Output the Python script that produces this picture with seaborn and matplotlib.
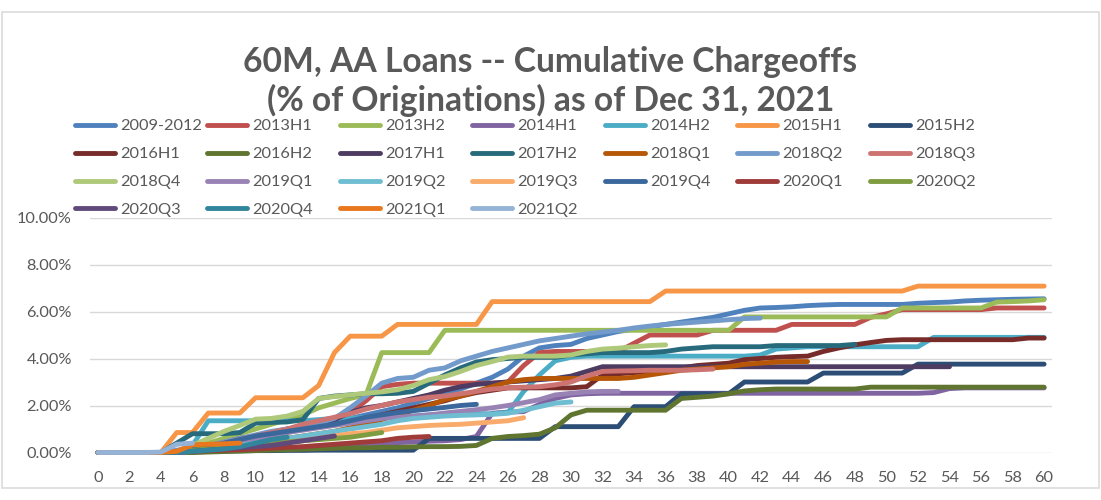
import pandas as pd
import matplotlib.pyplot as plt
import seaborn as sns
from matplotlib.lines import Line2D
from matplotlib.patches import Rectangle

# ── Data: cumulative chargeoffs (% of originations) by months on book ──
s_2009_2012 = [0, 0, 0, 0, 0, 0, 0.1, 0.2, 0.35, 0.5, 0.65, 0.8, 0.9, 1.0, 1.15, 1.3, 1.45, 1.6, 1.75, 1.9,
               2.1, 2.3, 2.5, 2.7, 2.95, 3.2, 3.55, 4.1, 4.45, 4.55, 4.6, 4.85, 5.0, 5.15, 5.25, 5.35, 5.45,
               5.55, 5.65, 5.75, 5.9, 6.05, 6.15, 6.17, 6.2, 6.25, 6.28, 6.3, 6.3, 6.3, 6.3, 6.3, 6.35, 6.38,
               6.4, 6.45, 6.48, 6.5, 6.52, 6.53, 6.54]
s_2013h1 = [0, 0, 0, 0, 0, 0, 0.1, 0.2, 0.3, 0.4, 0.55, 0.7, 0.85, 1.0, 1.2, 1.4, 1.7, 2.2, 2.8, 2.9,
            2.95, 2.95, 2.95, 2.95, 2.95, 2.95, 3.0, 3.7, 4.25, 4.3, 4.3, 4.3, 4.3, 4.3, 4.65, 5.0, 5.0,
            5.0, 5.0, 5.2, 5.2, 5.2, 5.2, 5.2, 5.45, 5.45, 5.45, 5.45, 5.45, 5.75, 5.9, 6.08, 6.08, 6.08,
            6.08, 6.08, 6.08, 6.15, 6.15, 6.15, 6.15]
s_2013h2 = [0, 0, 0, 0, 0, 0, 0.2, 0.4, 0.6, 0.8, 1.0, 1.2, 1.4, 1.6, 1.9, 2.1, 2.3, 2.45, 4.25, 4.25,
            4.25, 4.25, 5.2, 5.2, 5.2, 5.2, 5.2, 5.2, 5.2, 5.2, 5.2, 5.2, 5.2, 5.2, 5.2, 5.2, 5.2, 5.2,
            5.2, 5.2, 5.2, 5.77, 5.77, 5.77, 5.77, 5.77, 5.77, 5.77, 5.77, 5.77, 5.77, 6.15, 6.15, 6.15,
            6.15, 6.15, 6.15, 6.4, 6.42, 6.45, 6.5]
s_2014h1 = [0, 0, 0, 0, 0, 0, 0, 0.05, 0.08, 0.1, 0.12, 0.15, 0.18, 0.2, 0.22, 0.25, 0.28, 0.32, 0.38,
            0.42, 0.45, 0.48, 0.5, 0.55, 0.68, 1.67, 1.72, 1.74, 2.05, 2.3, 2.45, 2.5, 2.52, 2.52, 2.52,
            2.52, 2.52, 2.52, 2.52, 2.52, 2.52, 2.52, 2.52, 2.52, 2.52, 2.52, 2.52, 2.52, 2.52, 2.52,
            2.52, 2.52, 2.52, 2.55, 2.72, 2.75, 2.75, 2.75, 2.75, 2.75, 2.75]
s_2014h2 = [0, 0, 0, 0, 0, 0, 0.3, 1.35, 1.35, 1.35, 1.35, 1.35, 1.35, 1.35, 1.4, 1.45, 1.45, 1.5, 1.5,
            1.55, 1.55, 1.6, 1.6, 1.62, 1.65, 1.65, 1.7, 2.6, 3.3, 3.9, 4.05, 4.1, 4.1, 4.1, 4.1, 4.1,
            4.1, 4.1, 4.1, 4.1, 4.1, 4.1, 4.15, 4.4, 4.45, 4.5, 4.5, 4.5, 4.5, 4.5, 4.5, 4.5, 4.5, 4.9,
            4.9, 4.9, 4.9, 4.9, 4.9, 4.9, 4.9]
s_2015h1 = [0, 0, 0, 0, 0, 0.85, 0.85, 1.68, 1.68, 1.68, 2.33, 2.33, 2.33, 2.33, 2.85, 4.25, 4.95, 4.95,
            4.95, 5.45, 5.45, 5.45, 5.45, 5.45, 5.45, 6.42, 6.42, 6.42, 6.42, 6.42, 6.42, 6.42, 6.42,
            6.42, 6.42, 6.42, 6.87, 6.87, 6.87, 6.87, 6.87, 6.87, 6.87, 6.87, 6.87, 6.87, 6.87, 6.87,
            6.87, 6.87, 6.87, 6.87, 7.08, 7.08, 7.08, 7.08, 7.08, 7.08, 7.08, 7.08, 7.08]
s_2015h2 = [0, 0, 0, 0, 0, 0.02, 0.04, 0.05, 0.06, 0.07, 0.08, 0.08, 0.09, 0.09, 0.1, 0.1, 0.1, 0.1,
            0.1, 0.1, 0.1, 0.6, 0.6, 0.6, 0.6, 0.6, 0.6, 0.6, 0.6, 1.1, 1.1, 1.1, 1.1, 1.1, 1.95, 1.95,
            1.95, 2.5, 2.5, 2.5, 2.5, 3.0, 3.0, 3.0, 3.0, 3.0, 3.38, 3.38, 3.38, 3.38, 3.38, 3.38, 3.76,
            3.76, 3.76, 3.76, 3.76, 3.76, 3.76, 3.76, 3.76]
s_2016h1 = [0, 0, 0, 0, 0, 0, 0.1, 0.2, 0.4, 0.6, 0.7, 0.8, 0.9, 1.0, 1.1, 1.2, 1.3, 1.45, 1.6, 1.75,
            1.9, 2.05, 2.2, 2.4, 2.55, 2.65, 2.75, 2.75, 2.75, 2.75, 2.75, 2.8, 3.3, 3.35, 3.4, 3.45,
            3.5, 3.6, 3.7, 3.75, 3.8, 3.95, 4.0, 4.05, 4.08, 4.1, 4.3, 4.45, 4.58, 4.68, 4.77, 4.8, 4.8,
            4.8, 4.8, 4.8, 4.8, 4.8, 4.8, 4.87, 4.87]
s_2016h2 = [0, 0, 0, 0, 0, 0, 0, 0.02, 0.04, 0.06, 0.08, 0.1, 0.12, 0.14, 0.16, 0.18, 0.2, 0.2, 0.22,
            0.22, 0.24, 0.25, 0.25, 0.26, 0.3, 0.6, 0.68, 0.72, 0.78, 1.05, 1.6, 1.8, 1.8, 1.8, 1.8, 1.8,
            1.8, 2.3, 2.35, 2.4, 2.5, 2.62, 2.67, 2.7, 2.7, 2.7, 2.7, 2.7, 2.7, 2.78, 2.78, 2.78, 2.78,
            2.78, 2.78, 2.78, 2.78, 2.78, 2.78, 2.78, 2.78]
s_2017h1 = [0, 0, 0, 0, 0, 0, 0.1, 0.2, 0.35, 0.5, 0.7, 0.85, 1.0, 1.1, 1.25, 1.4, 1.7, 1.9, 2.0, 2.15,
            2.3, 2.45, 2.65, 2.8, 2.9, 2.95, 3.0, 3.05, 3.1, 3.15, 3.25, 3.45, 3.65, 3.65, 3.65, 3.65,
            3.65, 3.65, 3.65, 3.65, 3.65, 3.65, 3.65, 3.65, 3.65, 3.65, 3.65, 3.65, 3.65, 3.65, 3.65,
            3.65, 3.65, 3.65, 3.65]
s_2017h2 = [0, 0, 0, 0, 0, 0.4, 0.8, 0.8, 0.8, 0.85, 1.25, 1.28, 1.3, 1.4, 2.3, 2.4, 2.45, 2.5, 2.5,
            2.52, 2.6, 2.95, 3.3, 3.6, 3.85, 3.95, 4.0, 4.05, 4.05, 4.05, 4.15, 4.2, 4.25, 4.25, 4.25,
            4.25, 4.3, 4.4, 4.45, 4.5, 4.5, 4.5, 4.5, 4.55, 4.55, 4.55, 4.55, 4.55, 4.6]
s_2018q1 = [0, 0, 0, 0, 0, 0, 0.1, 0.15, 0.2, 0.3, 0.4, 0.5, 0.6, 0.7, 0.8, 0.9, 1.05, 1.2, 1.4, 1.6,
            1.8, 2.0, 2.25, 2.4, 2.6, 2.8, 3.0, 3.1, 3.15, 3.15, 3.15, 3.15, 3.15, 3.15, 3.2, 3.3, 3.4,
            3.5, 3.55, 3.6, 3.65, 3.75, 3.8, 3.85, 3.87, 3.87]
s_2018q2 = [0, 0, 0, 0, 0, 0.1, 0.2, 0.3, 0.45, 0.6, 0.75, 0.9, 1.0, 1.1, 1.25, 1.45, 1.9, 2.4, 2.95,
            3.15, 3.2, 3.5, 3.6, 3.9, 4.1, 4.3, 4.45, 4.6, 4.75, 4.85, 4.95, 5.05, 5.12, 5.2, 5.3, 5.38,
            5.45, 5.5, 5.55, 5.6, 5.65, 5.7, 5.72]
s_2018q3 = [0, 0, 0, 0, 0, 0.05, 0.15, 0.25, 0.4, 0.55, 0.7, 0.85, 1.0, 1.2, 1.35, 1.5, 1.65, 1.85, 2.0,
            2.15, 2.25, 2.35, 2.4, 2.5, 2.6, 2.7, 2.75, 2.78, 2.8, 2.88, 3.0, 3.25, 3.45, 3.47, 3.48,
            3.5, 3.5, 3.5, 3.52, 3.55]
s_2018q4 = [0, 0, 0, 0, 0, 0, 0.3, 0.6, 0.9, 1.15, 1.42, 1.45, 1.55, 1.75, 2.3, 2.38, 2.45, 2.52, 2.58,
            2.67, 2.85, 3.1, 3.23, 3.45, 3.7, 3.87, 4.06, 4.1, 4.1, 4.1, 4.15, 4.3, 4.4, 4.44, 4.5, 4.55,
            4.58]
s_2019q1 = [0, 0, 0, 0, 0, 0, 0.1, 0.2, 0.3, 0.45, 0.6, 0.75, 0.85, 0.95, 1.05, 1.15, 1.25, 1.35, 1.45,
            1.5, 1.55, 1.6, 1.68, 1.75, 1.82, 1.9, 2.0, 2.12, 2.25, 2.45, 2.52, 2.58, 2.6, 2.6]
s_2019q2 = [0, 0, 0, 0, 0, 0, 0.05, 0.1, 0.2, 0.3, 0.4, 0.5, 0.6, 0.7, 0.8, 0.9, 1.0, 1.1, 1.2, 1.35,
            1.45, 1.5, 1.55, 1.58, 1.6, 1.62, 1.67, 1.8, 1.95, 2.1, 2.15]
s_2019q3 = [0, 0, 0, 0, 0, 0, 0.05, 0.1, 0.15, 0.2, 0.3, 0.35, 0.45, 0.5, 0.6, 0.7, 0.8, 0.85, 0.95,
            1.05, 1.1, 1.15, 1.18, 1.2, 1.25, 1.3, 1.35, 1.48]
s_2019q4 = [0, 0, 0, 0, 0, 0.05, 0.15, 0.25, 0.4, 0.55, 0.7, 0.8, 0.9, 1.0, 1.1, 1.2, 1.35, 1.5, 1.6,
            1.7, 1.78, 1.85, 1.92, 2.0, 2.05]
s_2020q1 = [0, 0, 0, 0, 0, 0, 0.05, 0.08, 0.1, 0.12, 0.15, 0.18, 0.22, 0.25, 0.3, 0.35, 0.4, 0.45, 0.5,
            0.6, 0.65, 0.68]
s_2020q2 = [0, 0, 0, 0, 0, 0, 0.1, 0.15, 0.2, 0.25, 0.3, 0.35, 0.45, 0.5, 0.55, 0.6, 0.65, 0.75, 0.85]
s_2020q3 = [0, 0, 0, 0, 0, 0, 0.05, 0.1, 0.15, 0.2, 0.25, 0.3, 0.4, 0.5, 0.6, 0.7]
s_2020q4 = [0, 0, 0, 0, 0, 0, 0.05, 0.1, 0.15, 0.25, 0.4, 0.55, 0.65]
s_2021q1 = [0, 0, 0, 0, 0, 0.05, 0.33, 0.35, 0.37, 0.4]
s_2021q2 = [0, 0, 0, 0, 0.02, 0.35, 0.4]

labels = ['2009-2012', '2013H1', '2013H2', '2014H1', '2014H2', '2015H1', '2015H2',
          '2016H1', '2016H2', '2017H1', '2017H2', '2018Q1', '2018Q2', '2018Q3',
          '2018Q4', '2019Q1', '2019Q2', '2019Q3', '2019Q4', '2020Q1', '2020Q2',
          '2020Q3', '2020Q4', '2021Q1', '2021Q2']
series = [s_2009_2012, s_2013h1, s_2013h2, s_2014h1, s_2014h2, s_2015h1, s_2015h2,
          s_2016h1, s_2016h2, s_2017h1, s_2017h2, s_2018q1, s_2018q2, s_2018q3,
          s_2018q4, s_2019q1, s_2019q2, s_2019q3, s_2019q4, s_2020q1, s_2020q2,
          s_2020q3, s_2020q4, s_2021q1, s_2021q2]
colors = ['#4F81BD', '#C0504D', '#9BBB59', '#8064A2', '#4BACC6', '#F79646', '#2C4D75',
          '#772C2A', '#5F7530', '#4D3B62', '#276A7C', '#B65708', '#729ACA', '#CD7371',
          '#AFC97A', '#9983B5', '#6FBDD1', '#F9AB6B', '#3A679C', '#9F3B38', '#7E9D40',
          '#604A7B', '#31859C', '#E8771E', '#95B3D7']
y_ticks = [0, 2, 4, 6, 8, 10]
x_ticks = list(range(0, 61, 2))

# long-form table for seaborn
rows = []
for lab, vals in zip(labels, series):
    for m, v in enumerate(vals):
        rows.append((lab, m, v))
df = pd.DataFrame(rows, columns=['cohort', 'month', 'pct'])

sns.set_style('white')
plt.rcParams['font.family'] = ['Lato', 'DejaVu Sans']
grey = '#595959'

fig = plt.figure(figsize=(11.01, 5.0), dpi=100)
ax = fig.add_axes([90 / 1101, 47.5 / 500, 962 / 1101, 235 / 500])

sns.lineplot(data=df, x='month', y='pct', hue='cohort', hue_order=labels,
             palette=colors, estimator=None, legend=False, ax=ax,
             linewidth=3.5, solid_capstyle='round', solid_joinstyle='round',
             clip_on=False, zorder=3)

ax.set_xlim(-0.5, 60.5)
ax.set_ylim(0, 10)
ax.set_xticks(x_ticks)
ax.set_yticks(y_ticks)
ax.set_yticklabels([f'{v:.2f}%' for v in y_ticks])
ax.set_xlabel('')
ax.set_ylabel('')
ax.grid(axis='y', color='#D9D9D9', linewidth=1.0)
ax.grid(axis='x', visible=False)
ax.set_axisbelow(True)
for sp in ax.spines.values():
    sp.set_visible(False)
ax.tick_params(axis='both', length=0, labelsize=11.8, labelcolor=grey)
ax.tick_params(axis='y', pad=13)
ax.tick_params(axis='x', pad=13.5)

# title
fig.text(0.5, (500 - 72) / 500, '60M, AA Loans -- Cumulative Chargeoffs',
         ha='center', va='baseline', fontsize=24.2, fontweight='bold', color=grey)
fig.text(0.5, (500 - 111) / 500, '(% of Originations) as of Dec 31, 2021',
         ha='center', va='baseline', fontsize=24.2, fontweight='bold', color=grey)

# legend: 7 columns x 4 rows, Excel style
col_x = [75, 207, 340, 472, 605, 737, 870]
for c in range(7):
    hs = [Line2D([0], [0], color=colors[i], lw=3.5, solid_capstyle='round')
          for i in range(c, len(labels), 7)]
    ls = [labels[i] for i in range(c, len(labels), 7)]
    fig.legend(hs, ls, loc='upper left', bbox_to_anchor=(col_x[c] / 1101, (500 - 119) / 500),
               frameon=False, fontsize=11.8, labelcolor=grey, handlelength=2.45,
               handletextpad=0.3, labelspacing=0.82, borderpad=0, borderaxespad=0)

# chart border
fig.add_artist(Rectangle((2 / 1101, 12 / 500), 1097 / 1101, 476 / 500,
                         transform=fig.transFigure, fill=False,
                         edgecolor='#D9D9D9', linewidth=1.1))

plt.savefig('out.png', dpi=100)
